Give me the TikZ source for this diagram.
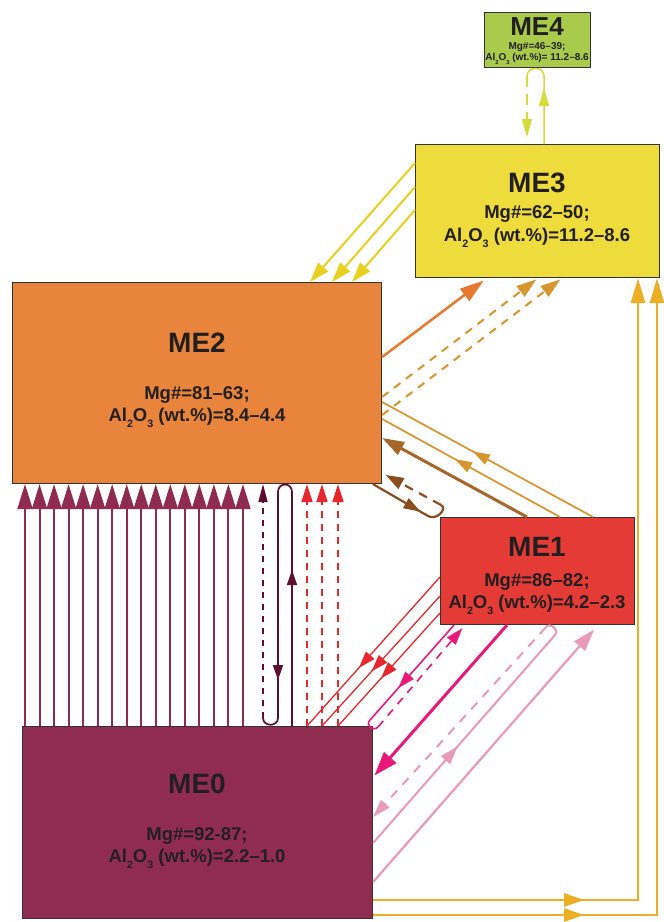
\documentclass[tikz,border=0pt]{standalone}
\usepackage{fontspec}
\setmainfont{Liberation Sans}
\usetikzlibrary{arrows.meta,decorations.markings,calc}
\definecolor{boxline}{HTML}{333333}
\definecolor{me4}{HTML}{A8CB4C}
\definecolor{me3}{HTML}{EEDC3C}
\definecolor{me2}{HTML}{E8843C}
\definecolor{me1}{HTML}{E43B36}
\definecolor{me0}{HTML}{8F2C50}
\definecolor{txt}{HTML}{231F20}
\definecolor{yel}{HTML}{E8D01E}
\definecolor{lim}{HTML}{D3DC3A}
\definecolor{org}{HTML}{E9782F}
\definecolor{gold}{HTML}{D6952D}
\definecolor{brn}{HTML}{A5662A}
\definecolor{dbrn}{HTML}{8A4B1E}
\definecolor{mar}{HTML}{8E2B4F}
\definecolor{dkm}{HTML}{5C1030}
\definecolor{redc}{HTML}{E8262E}
\definecolor{mag}{HTML}{E8197B}
\definecolor{pnk}{HTML}{E89BB8}
\definecolor{yor}{HTML}{EBAE25}
\newcommand{\sbx}[1]{\raisebox{-0.36em}{\scalebox{0.58}{#1}}}
\tikzset{
  box/.style={draw=boxline, line width=1.1pt, anchor=north west, inner sep=0pt},
  ttl/.style={font=\fontsize{28}{30}\selectfont\bfseries, text=txt, inner sep=0pt, text depth=0pt, anchor=base},
  sub/.style={font=\fontsize{18.5}{22}\selectfont\bfseries, text=txt, inner sep=0pt},
  subsm/.style={font=\fontsize{10}{12}\selectfont\bfseries, text=txt, inner sep=0pt, anchor=base},
  marr/.style={postaction={decorate}, decoration={markings, mark=at position #1 with {\arrow{>}}}},
  dsh/.style={dash pattern=on 7pt off 6pt},
}
\begin{document}
\begin{tikzpicture}[x=1pt,y=-1pt]
\useasboundingbox (0,0) rectangle (664,922);
\fill[white] (0,0) rectangle (664,922);

% boxes
\node[box, fill=me4, minimum width=106pt, minimum height=55pt] (ME4) at (484,12) {};
\node[box, fill=me3, minimum width=244pt, minimum height=133pt] (ME3) at (415,144) {};
\node[box, fill=me2, minimum width=369pt, minimum height=201pt] (ME2) at (12,282) {};
\node[box, fill=me1, minimum width=194pt, minimum height=107pt] (ME1) at (440,517) {};
\node[box, fill=me0, minimum width=350pt, minimum height=192pt] (ME0) at (22,726) {};

% ME4 loop
\draw[lim, line width=1.5pt, >={Triangle[length=18pt,width=10pt]}, marr=56pt]
  (544,0 |- ME3.north) -- (544,76) .. controls (544,66) and (527,66) .. (527,76);
\draw[lim, line width=1.5pt, dash pattern=on 11pt off 7pt, -{Triangle[length=18pt,width=10pt]}, shorten >=7pt]
  (527,76) -- (527,0 |- ME3.north);

% ME3 -> ME2 yellow
\draw[yel, line width=2pt, -{Triangle[length=20pt,width=13pt]}] (ME3.west |- 0,163) -- (310,0 |- ME2.north);
\draw[yel, line width=2pt, -{Triangle[length=20pt,width=13pt]}] (ME3.west |- 0,187) -- (332,0 |- ME2.north);
\draw[yel, line width=2pt, -{Triangle[length=20pt,width=13pt]}] (ME3.west |- 0,210) -- (352,0 |- ME2.north);

% ME2 -> ME3
\draw[org, line width=2.5pt, -{Triangle[length=24pt,width=15pt]}, shorten >=4pt] (ME2.east |- 0,357) -- (487,0 |- ME3.south);
\draw[gold, line width=2pt, dash pattern=on 8pt off 7pt, -{Triangle[length=20pt,width=13pt]}, shorten >=2pt] (ME2.east |- 0,397) -- (538,0 |- ME3.south);
\draw[gold, line width=2pt, dash pattern=on 8pt off 7pt, -{Triangle[length=20pt,width=13pt]}, shorten >=2pt] (ME2.east |- 0,415) -- (562,0 |- ME3.south);

% ME1 -> ME2
\draw[brn, line width=3pt, -{Triangle[length=22pt,width=14pt]}] (527,0 |- ME1.north) -- (ME2.east |- 0,438);
\draw[gold, line width=1.7pt, >={Triangle[length=17pt,width=11pt]}, marr=0.59] (560,0 |- ME1.north) -- (ME2.east |- 0,419);
\draw[gold, line width=1.7pt, >={Triangle[length=17pt,width=11pt]}, marr=0.57] (593,0 |- ME1.north) -- (ME2.east |- 0,402);

% ME2 <-> ME1 brown loop
\draw[dbrn, line width=2.2pt, >={Triangle[length=17pt,width=11pt]}, marr=55pt]
  (373,0 |- ME2.south) -- (428,516) .. controls (436,521) and (448,509) .. (441,505);
\draw[dbrn, line width=2.2pt, dash pattern=on 9pt off 7pt, -{Triangle[length=18pt,width=12pt]}, shorten >=4pt]
  (441,505) -- (ME2.east |- 0,473);

% ME0 -> ME2 maroon verticals
\foreach \i in {0,...,15}{
  \pgfmathsetmacro{\xx}{25+14.53*\i}
  \draw[mar, line width=2pt, -{Triangle[length=25pt,width=15pt]}] (\xx,0 |- ME0.north) -- (\xx,0 |- ME2.south);
}

% dark maroon loop
\draw[dkm, line width=1.7pt, >={Triangle[length=15pt,width=10pt]},
  postaction={decorate}, decoration={markings,
    mark=at position 156pt with {\arrow{>}},
    mark=at position 445pt with {\arrow{>}}}]
  (292,0 |- ME0.north) -- (292,492) .. controls (292,482) and (278,482) .. (278,492)
  -- (278,718) .. controls (278,727) and (263,727) .. (263,718);
\draw[dkm, line width=1.7pt, dash pattern=on 6pt off 6pt, -{Triangle[length=18pt,width=9pt]}]
  (263,718) -- (263,0 |- ME2.south);

% red dashed verticals ME0 -> ME2
\foreach \xx in {307,322,338}{
  \draw[redc, line width=1.8pt, dsh, -{Triangle[length=18pt,width=11pt]}] (\xx,0 |- ME0.north) -- (\xx,0 |- ME2.south);
}

% red diagonals ME1 -> ME0
\draw[redc, line width=1.3pt, >={Triangle[length=17pt,width=11pt]}, marr=0.61] (ME1.west |- 0,577) -- (307,0 |- ME0.north);
\draw[redc, line width=1.3pt, >={Triangle[length=17pt,width=11pt]}, marr=0.58] (ME1.west |- 0,596) -- (322,0 |- ME0.north);
\draw[redc, line width=1.3pt, >={Triangle[length=17pt,width=11pt]}, marr=0.58] (ME1.west |- 0,613) -- (338,0 |- ME0.north);

% magenta loop
\draw[mag, line width=1.6pt, >={Triangle[length=17pt,width=11pt]}, marr=84pt]
  (454,0 |- ME1.south) -- (370,720) .. controls (365,725) and (373,732) .. (378,727);
\draw[mag, line width=1.6pt, dash pattern=on 8pt off 7pt, -{Triangle[length=17pt,width=11pt]}, shorten >=4pt]
  (378,727) -- (465,0 |- ME1.south);

% magenta thick
\draw[mag, line width=3pt, -{Triangle[length=24pt,width=16pt]}, shorten >=2pt] (507,0 |- ME1.south) -- (ME0.east |- 0,777);

% pink loop
\draw[pnk, line width=2pt, >={Triangle[length=18pt,width=12pt]}, marr=128pt]
  (ME0.east |- 0,843) -- (555,635) .. controls (559.5,629.7) and (550.4,621.9) .. (545.9,627.2);
\draw[pnk, line width=2pt, dash pattern=on 9pt off 8pt, -{Triangle[length=18pt,width=11pt]}]
  (545.9,627.2) -- (ME0.east |- 0,817);

% pink solid
\draw[pnk, line width=2.2pt, -{Triangle[length=22pt,width=14pt]}, shorten >=6pt] (ME0.east |- 0,882) -- (598,0 |- ME1.south);

% yellow-orange ME0 -> ME3
\draw[yor, line width=2.5pt, -{Triangle[length=25pt,width=14pt]}, >={Triangle[length=20pt,width=13pt]}, marr=211pt]
  (ME0.east |- 0,900) -- (638,900) -- (638,0 |- ME3.south);
\draw[yor, line width=2.5pt, -{Triangle[length=25pt,width=14pt]}, >={Triangle[length=20pt,width=13pt]}, marr=211pt]
  (ME0.east |- 0,915) -- (657,915) -- (657,0 |- ME3.south);

% texts
\node[ttl, font=\fontsize{26}{28}\selectfont\bfseries] (ME4t) at (537,35) {ME4};
\node[subsm] (ME4m) at (537,49.5) {Mg\#=46–39;};
\node[subsm] (ME4a) at (537,60.5) {Al\sbx{2}O\sbx{3} (wt.\%)= 11.2–8.6};

\node[ttl] (ME3t) at (537,192) {ME3};
\node[sub] (ME3m) at (537,214) {Mg\#=62–50;};
\node[sub] (ME3a) at (537,238) {Al\sbx{2}O\sbx{3} (wt.\%)=11.2–8.6};

\node[ttl] (ME2t) at (197,352) {ME2};
\node[sub] (ME2m) at (197,395) {Mg\#=81–63;};
\node[sub] (ME2a) at (197,418) {Al\sbx{2}O\sbx{3} (wt.\%)=8.4–4.4};

\node[ttl] (ME1t) at (537,556) {ME1};
\node[sub] (ME1m) at (537,582) {Mg\#=86–82;};
\node[sub] (ME1a) at (537,605) {Al\sbx{2}O\sbx{3} (wt.\%)=4.2–2.3};

\node[ttl] (ME0t) at (197,793) {ME0};
\node[sub] (ME0m) at (197,836) {Mg\#=92-87;};
\node[sub] (ME0a) at (197,859) {Al\sbx{2}O\sbx{3} (wt.\%)=2.2–1.0};
\end{tikzpicture}
\end{document}
